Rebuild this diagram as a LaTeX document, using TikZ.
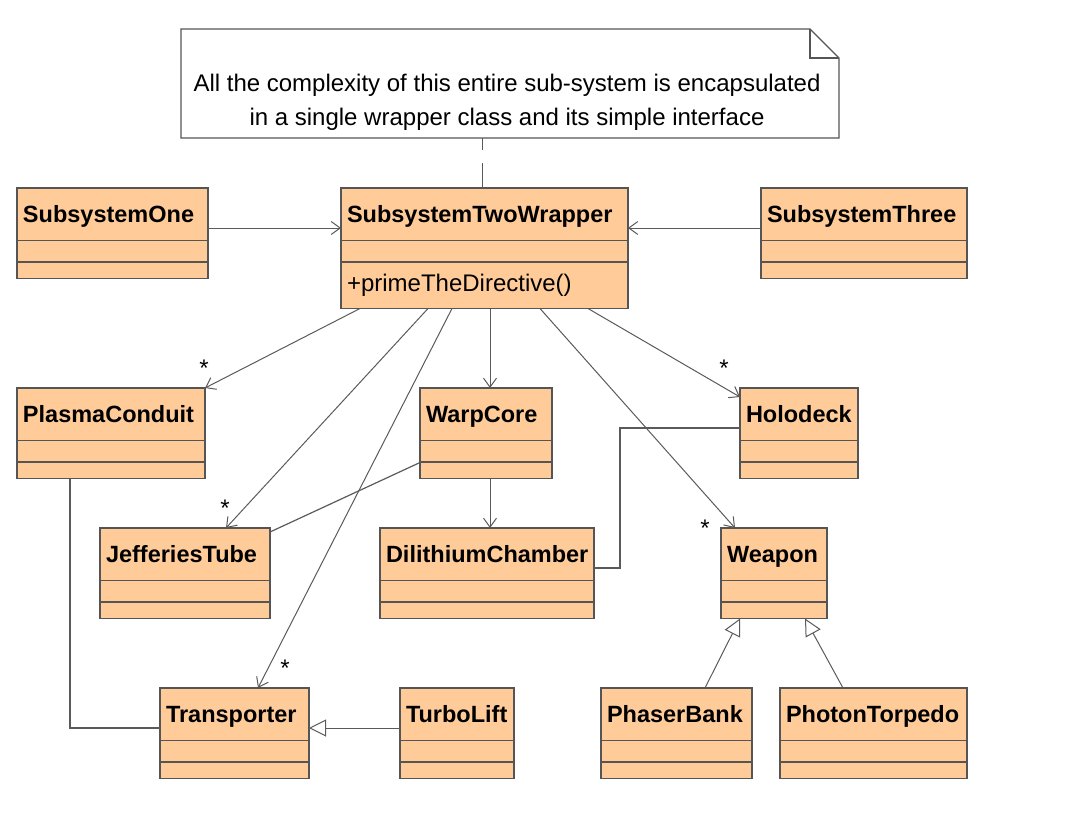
\documentclass[tikz,border=0pt]{standalone}
\usepackage{fontspec}
\setmainfont{Liberation Sans}
\usepackage{xcolor}
\usetikzlibrary{shapes.multipart,arrows.meta,calc}

\definecolor{boxfill}{RGB}{255,204,153}
\definecolor{boxline}{RGB}{85,85,85}
\definecolor{wireline}{RGB}{90,90,90}

\tikzset{
  classbox/.style={rectangle split, rectangle split parts=3, draw=boxline, fill=boxfill, line width=1.5pt,
    inner xsep=6pt, inner ysep=0pt, outer sep=0pt, anchor=north west, align=left,
    font=\fontsize{23.5}{28}\selectfont\bfseries},
  assoc/.style={draw=wireline, line width=1pt, -{Straight Barb[length=9pt,width=13pt]}},
  gen/.style={draw=wireline, line width=1pt, -{Triangle[open,length=17pt,width=17pt,fill=white]}},
  link/.style={draw=wireline, line width=1.2pt},
  mult/.style={anchor=base, inner sep=0pt, font=\fontsize{24}{28}\selectfont},
}

\begin{document}
\begin{tikzpicture}[x=1pt,y=1pt,yscale=-1,xscale=1]
\useasboundingbox (0,0) rectangle (1068,816);

%Note
\draw [draw=boxline, fill=white, line width=1.2pt] (181,29) -- (810,29) -- (839,58) -- (839,138) -- (181,138) -- cycle ;
\draw [draw=boxline, line width=1.2pt] (810,29) -- (810,58) -- (839,58) ;
% Text Node
\node [align=center, inner sep=0pt, font=\fontsize{24}{34}\selectfont] (note) at (507,102) {All the complexity of this entire sub-system is encapsulated\\in a single wrapper class and its simple interface};
\coordinate (notefoot) at (482,138);

%Class boxes, top row
\node [classbox, text width=179pt] (one) at (17,188) {\rule[-17pt]{0pt}{51pt}SubsystemOne\nodepart{two}\rule[-10pt]{0pt}{20pt}\nodepart{three}\rule[-7.5pt]{0pt}{15pt}};
\node [classbox, text width=275pt] (wrap) at (341,188) {\rule[-17pt]{0pt}{51pt}SubsystemTwoWrapper\nodepart{two}\rule[-10pt]{0pt}{20pt}\nodepart{three}\rule[-16pt]{0pt}{45pt}{\fontsize{24}{28}\selectfont\mdseries +primeTheDirective()}};
\node [classbox, text width=194pt] (three) at (761,188) {\rule[-17pt]{0pt}{51pt}SubsystemThree\nodepart{two}\rule[-10pt]{0pt}{20pt}\nodepart{three}\rule[-7.5pt]{0pt}{15pt}};

%Class boxes, second row
\node [classbox, text width=176pt] (plasma) at (17,388) {\rule[-17pt]{0pt}{51pt}PlasmaConduit\nodepart{two}\rule[-10pt]{0pt}{20pt}\nodepart{three}\rule[-7.5pt]{0pt}{15pt}};
\node [classbox, text width=120pt] (warp) at (420,388) {\rule[-17pt]{0pt}{51pt}WarpCore\nodepart{two}\rule[-10pt]{0pt}{20pt}\nodepart{three}\rule[-7.5pt]{0pt}{15pt}};
\node [classbox, text width=106pt] (holo) at (740,388) {\rule[-17pt]{0pt}{51pt}Holodeck\nodepart{two}\rule[-10pt]{0pt}{20pt}\nodepart{three}\rule[-7.5pt]{0pt}{15pt}};

%Class boxes, third row
\node [classbox, text width=158pt] (jeff) at (100,528) {\rule[-17pt]{0pt}{51pt}JefferiesTube\nodepart{two}\rule[-10pt]{0pt}{20pt}\nodepart{three}\rule[-7.5pt]{0pt}{15pt}};
\node [classbox, text width=202pt] (dili) at (380,528) {\rule[-17pt]{0pt}{51pt}DilithiumChamber\nodepart{two}\rule[-10pt]{0pt}{20pt}\nodepart{three}\rule[-7.5pt]{0pt}{15pt}};
\node [classbox, text width=94pt] (weapon) at (721,528) {\rule[-17pt]{0pt}{51pt}Weapon\nodepart{two}\rule[-10pt]{0pt}{20pt}\nodepart{three}\rule[-7.5pt]{0pt}{15pt}};

%Class boxes, bottom row
\node [classbox, text width=137pt] (trans) at (160,688) {\rule[-17pt]{0pt}{51pt}Transporter\nodepart{two}\rule[-10pt]{0pt}{20pt}\nodepart{three}\rule[-7.5pt]{0pt}{15pt}};
\node [classbox, text width=102pt] (turbo) at (400,688) {\rule[-17pt]{0pt}{51pt}TurboLift\nodepart{two}\rule[-10pt]{0pt}{20pt}\nodepart{three}\rule[-7.5pt]{0pt}{15pt}};
\node [classbox, text width=139pt] (phaser) at (601,688) {\rule[-17pt]{0pt}{51pt}PhaserBank\nodepart{two}\rule[-10pt]{0pt}{20pt}\nodepart{three}\rule[-7.5pt]{0pt}{15pt}};
\node [classbox, text width=175pt] (photon) at (780,688) {\rule[-17pt]{0pt}{51pt}PhotonTorpedo\nodepart{two}\rule[-10pt]{0pt}{20pt}\nodepart{three}\rule[-7.5pt]{0pt}{15pt}};

%Note anchor
\draw [link, line width=1pt, dash pattern=on 12pt off 13pt on 25pt off 0pt] (notefoot) -- ($(wrap.north west)+(141,0)$) ;

%Straight Lines, into the wrapper
\draw [assoc] ($(one.north east)+(0,40)$) -- ($(wrap.north west)+(0,40)$) ;
\draw [assoc] ($(three.north west)+(0,40)$) -- ($(wrap.north east)+(0,40)$) ;

%Straight Lines, out of the wrapper
\draw [assoc] ($(wrap.south west)+(19,0)$) -- (plasma.north east) ;
\draw [assoc] ($(wrap.south west)+(87,0)$) -- ($(jeff.north west)+(126,0)$) ;
\draw [assoc] ($(wrap.south west)+(111,0)$) -- ($(trans.north west)+(98,0)$) ;
\draw [assoc] ($(wrap.south west)+(149,0)$) -- ($(warp.north west)+(70,0)$) ;
\draw [assoc] ($(wrap.south west)+(199,0)$) -- ($(weapon.north west)+(14,0)$) ;
\draw [assoc] ($(wrap.south west)+(247,0)$) -- ($(holo.north west)+(0,9)$) ;
\draw [assoc] ($(warp.south west)+(70,0)$) -- ($(dili.north west)+(110,0)$) ;

%Plain links
\draw [link] ($(warp.south west)+(0,-16)$) -- ($(jeff.north east)+(0,4)$) ;
\draw [link] ($(holo.north west)+(0,40)$) -- ++(-120,0) |- ($(dili.north east)+(0,40)$) ;
\draw [link] ($(plasma.south west)+(53,0)$) |- ($(trans.north west)+(0,40)$) ;

%Generalizations
\draw [gen] ($(turbo.north west)+(0,40)$) -- ($(trans.north east)+(0,40)$) ;
\draw [gen] ($(phaser.north west)+(104,0)$) -- ($(weapon.south west)+(19,0)$) ;
\draw [gen] ($(photon.north west)+(63,0)$) -- ($(weapon.south west)+(84,0)$) ;

% Multiplicities
\node [mult] (mplasma) at (204,376) {*};
\node [mult] (mjeff) at (225,516) {*};
\node [mult] (mtrans) at (285,676) {*};
\node [mult] (mholo) at (724,376) {*};
\node [mult] (mweapon) at (705,536) {*};

\end{tikzpicture}
\end{document}
